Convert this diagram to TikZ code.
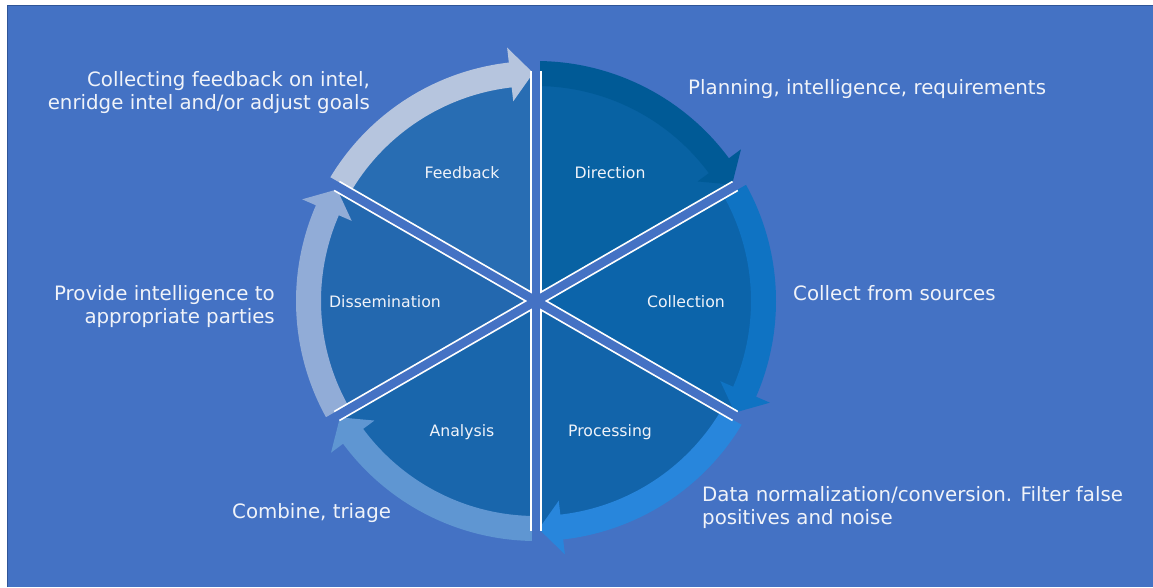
\documentclass[tikz,border=0pt]{standalone}
\usepackage{fontspec}
\setmainfont{DejaVu Sans}
\definecolor{bg}{HTML}{4472C4}
\definecolor{bgedge}{HTML}{2F5597}
\definecolor{txt}{HTML}{F0F3F9}
\definecolor{dirfill}{HTML}{0862A3}
\definecolor{dirband}{HTML}{005A96}
\definecolor{colfill}{HTML}{0C64AA}
\definecolor{colband}{HTML}{0F73C3}
\definecolor{profill}{HTML}{1264AA}
\definecolor{proband}{HTML}{2886DC}
\definecolor{anafill}{HTML}{1966AC}
\definecolor{anaband}{HTML}{5F96D2}
\definecolor{disfill}{HTML}{2368AF}
\definecolor{disband}{HTML}{91ACD7}
\definecolor{fbfill}{HTML}{286DB3}
\definecolor{fbband}{HTML}{B6C5DE}
\tikzset{
  outerlbl/.style={text=txt, inner sep=0pt, font=\fontsize{19.8}{23}\selectfont},
  innerlbl/.style={text=txt, inner sep=0pt, font=\fontsize{15.7}{19}\selectfont},
}
\begin{document}
\begin{tikzpicture}[x=1pt,y=1pt]
\useasboundingbox (0,0) rectangle (1153,587);
\fill[white] (0,0) rectangle (1153,587);
\fill[bg] (7,0) rectangle (1153,582);
\draw[bgedge, line width=1pt] (7.5,0) -- (7.5,581.5) -- (1153,581.5);

\begin{scope}[shift={(536,286)}]
  % sector fills
  \foreach \a/\fc in {90/dirfill, 30/colfill, -30/profill, -90/anafill, -150/disfill, -210/fbfill}{
    \pgfmathsetmacro{\b}{\a-60}
    \fill[\fc] (0,0) -- (\a:228pt) arc[start angle=\a, end angle=\b, radius=228pt] -- cycle;
  }
  % arrow bands
  \foreach \a/\bc in {90/dirband, 30/colband, -30/proband, -90/anaband, -150/disband, -210/fbband}{
    \pgfmathsetmacro{\b}{\a-60}
    \pgfmathsetmacro{\hb}{\b+6.5}
    \pgfmathsetmacro{\ht}{\b+0.7}
    \fill[\bc] (\a:215pt) arc[start angle=\a, end angle=\hb, radius=215pt]
      -- (\hb:201pt) -- (\ht:228pt) -- (\hb:255pt) -- (\hb:240pt)
      arc[start angle=\hb, end angle=\a, radius=240pt] -- cycle;
  }
  % separators
  \foreach \t in {90,30,-30}{
    \draw[white, line width=12pt] (\t:230pt) -- (\t+180:230pt);
  }
  \foreach \t in {90,30,-30}{
    \draw[bg, line width=8.5pt] (\t:246pt) -- (\t+180:246pt);
  }
\end{scope}

% inner labels
\node[innerlbl] (fb) at (462,414) {Feedback};
\node[innerlbl] (dir) at (610,414) {Direction};
\node[innerlbl] (dis) at (385,285) {Dissemination};
\node[innerlbl] (col) at (686,285) {Collection};
\node[innerlbl] (ana) at (462,155) {Analysis};
\node[innerlbl] (pro) at (610,155) {Processing};

% outer labels
\node[outerlbl, anchor=east, align=right] (fbt) at (370,494) {Collecting feedback on intel,\\enridge intel and/or adjust goals};
\node[outerlbl, anchor=west] (dirt) at (688,498) {Planning, intelligence, requirements};
\node[outerlbl, anchor=west] (colt) at (793,294) {Collect from sources};
\node[outerlbl, anchor=west, align=left] (prot) at (702,79) {Data normalization/conversion. Filter false\\positives and noise};
\node[outerlbl, anchor=west] (anat) at (232,74) {Combine, triage};
\node[outerlbl, anchor=east, align=right] (dist) at (275,280) {Provide intelligence to\\appropriate parties};
\end{tikzpicture}
\end{document}
